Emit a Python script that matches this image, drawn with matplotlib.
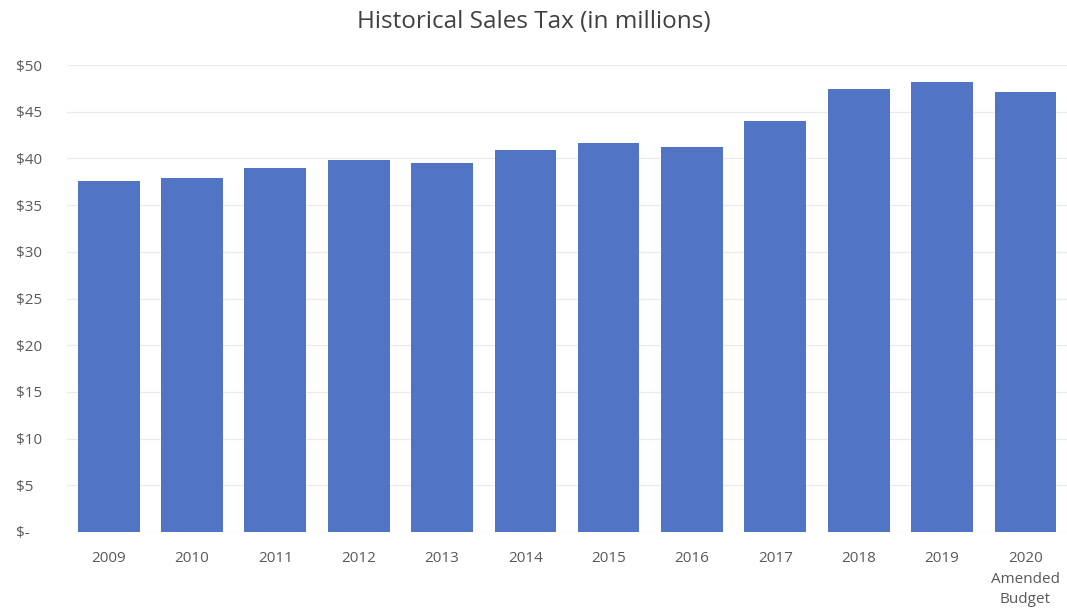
import matplotlib
matplotlib.use("Agg")
import matplotlib.pyplot as plt
from matplotlib.ticker import FuncFormatter

categories = ["2009", "2010", "2011", "2012", "2013", "2014", "2015", "2016",
              "2017", "2018", "2019", "2020\nAmended\nBudget"]
sales_tax = [37.6, 37.9, 39.0, 39.8, 39.5, 40.9, 41.6, 41.2, 44.0, 47.4, 48.2, 47.1]
y_ticks = [0, 5, 10, 15, 20, 25, 30, 35, 40, 45, 50]

plt.rcParams['font.family'] = ['Open Sans', 'DejaVu Sans']

fig = plt.figure(figsize=(10.67, 6.15), dpi=100)
ax = fig.add_axes([67/1067, 1 - 532/615, 1000/1067, (532-65)/615])

x = range(len(categories))
ax.bar(x, sales_tax, width=0.74, color="#5274c4", zorder=3)

ax.set_xlim(-0.5, len(categories) - 0.5)
ax.set_ylim(0, 50)
ax.set_yticks(y_ticks)
ax.yaxis.set_major_formatter(FuncFormatter(lambda v, p: "$-" if v == 0 else f"${v:.0f}"))
ax.set_xticks(list(x))
ax.set_xticklabels(categories, va="top", linespacing=1.5)
ax.grid(axis="y", color="#ebebeb", linewidth=0.9, zorder=0)
for s in ax.spines.values():
    s.set_visible(False)
ax.tick_params(axis="both", length=0, colors="#595959", labelsize=11)
ax.tick_params(axis="x", pad=14)
for lbl in ax.get_yticklabels():
    lbl.set_horizontalalignment("left")
ax.yaxis.set_tick_params(pad=37)

fig.text(0.5, 1 - 22/615, "Historical Sales Tax (in millions)", ha="center", va="center",
         fontsize=17.5, color="#404040")

fig.savefig("out.png", dpi=100, facecolor="white")
